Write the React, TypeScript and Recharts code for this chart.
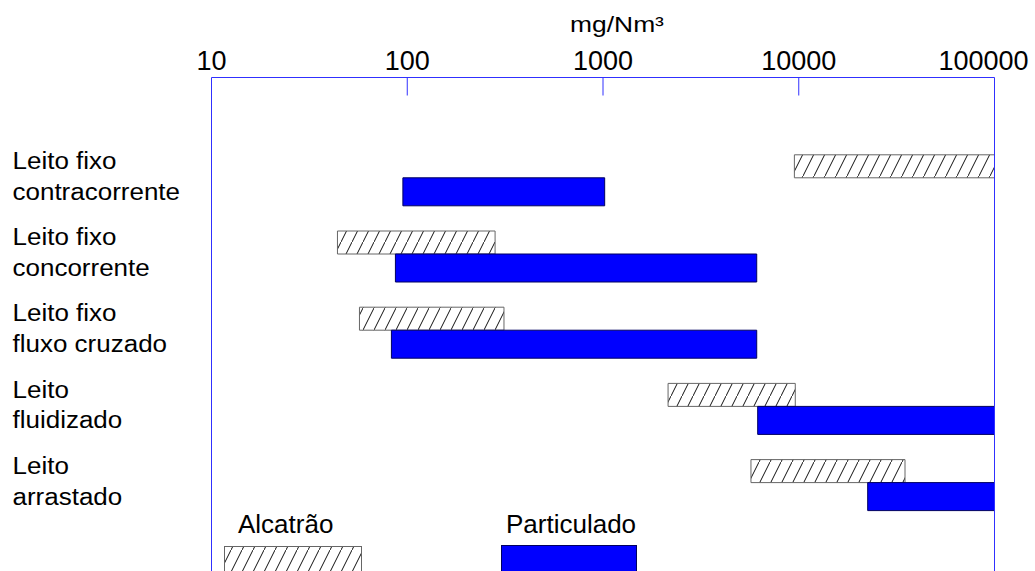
import React from 'react';
import { Bar, BarChart, Label, Legend, ReferenceLine, XAxis, YAxis } from 'recharts';

// categories on the left, one pair of range bars each
const categories = [
  'Leito fixo\ncontracorrente',
  'Leito fixo\nconcorrente',
  'Leito fixo\nfluxo cruzado',
  'Leito\nfluidizado',
  'Leito\narrastado',
];

// [min, max] in mg/Nm³
const alcatrao: [number, number][] = [
  [9500, 100000],
  [44, 281],
  [57, 312],
  [2150, 9600],
  [5700, 34900],
];
const particulado: [number, number][] = [
  [95, 1020],
  [87, 6100],
  [83, 6100],
  [6170, 100000],
  [22500, 100000],
];

const xTicks = [10, 100, 1000, 10000, 100000];
const seriesNames = ['Alcatrão', 'Particulado'];
const unit = 'mg/Nm³';

const FONT = '"Liberation Sans", Arial, sans-serif';
const BLUE = '#3030ff';

const data = categories.map((name, i) => ({
  name,
  alcatrao: alcatrao[i],
  particulado: particulado[i],
}));

const Hatch = ({ id }: { id: string }) => (
  <pattern id={id} patternUnits="userSpaceOnUse" width={11} height={22}>
    <rect width={11} height={22} fill="#fff" />
    <path d="M-1,24 L12,-2" stroke="#111" strokeWidth={1} />
  </pattern>
);

const XTick = (props: any) => {
  const { x, y, payload } = props;
  const v = payload.value;
  const first = v === xTicks[0];
  const last = v === xTicks[xTicks.length - 1];
  // the last label is pulled inside the page, as in the original
  return (
    <g>
      <text
        x={last ? x + 34 : x}
        y={y}
        textAnchor={last ? 'end' : 'middle'}
        fontFamily={FONT}
        fontSize={27}
        fill="#000"
      >
        {v}
      </text>
      {!first && !last && <line x1={x} x2={x} y1={y + 8} y2={y + 26} stroke={BLUE} />}
    </g>
  );
};

const YTick = (props: any) => {
  const { y, payload } = props;
  const lines = String(payload.value).split('\n');
  return (
    <g transform={`translate(12.5, ${y - 11}) scale(1.13 1)`}>
      <text fontFamily={FONT} fontSize={23} fill="#000">
        {lines.map((l, i) => (
          <tspan key={i} x={0} y={i * 31}>
            {l}
          </tspan>
        ))}
      </text>
    </g>
  );
};

const UnitLabel = (props: any) => {
  const { x, y, width } = props.viewBox;
  return (
    <text
      transform={`translate(${x + width / 2 + 14}, ${y + 31.5}) scale(1.2 1)`}
      textAnchor="middle"
      fontFamily={FONT}
      fontSize={22}
      fill="#000"
    >
      {unit}
    </text>
  );
};

const LegendContent = () => (
  <svg width={1035} height={571} style={{ position: 'absolute', left: 0, top: 0 }}>
    <defs>
      <Hatch id="hatch-legend" />
    </defs>
    <text x={238} y={533} fontFamily={FONT} fontSize={26} fill="#000">
      {seriesNames[0]}
    </text>
    <rect x={224.5} y={546.5} width={137} height={40} fill="url(#hatch-legend)" stroke="#666" />
    <text x={506} y={533} fontFamily={FONT} fontSize={26} fill="#000">
      {seriesNames[1]}
    </text>
    <rect x={501.5} y={545.5} width={135} height={40} fill="#0000ff" stroke="#000060" />
  </svg>
);

export default function App() {
  return (
    <div
      style={{
        position: 'absolute',
        left: 0,
        top: 0,
        width: 1035,
        height: 571,
        overflow: 'hidden',
        background: '#fff',
      }}
    >
      <BarChart
        width={1035}
        height={571}
        layout="vertical"
        data={data}
        barGap={0}
        margin={{ top: 0.5, right: 40.5, left: 0, bottom: 0 }}
      >
        <defs>
          <Hatch id="hatch" />
        </defs>
        <XAxis
          type="number"
          scale="log"
          domain={[10, 100000]}
          ticks={xTicks}
          allowDataOverflow
          orientation="top"
          height={77}
          interval={0}
          tickLine={false}
          tickSize={0}
          tickMargin={8}
          axisLine={{ stroke: BLUE }}
          tick={<XTick />}
        >
          <Label content={<UnitLabel />} />
        </XAxis>
        <YAxis
          type="category"
          dataKey="name"
          width={211.5}
          interval={0}
          axisLine={{ stroke: BLUE }}
          tickLine={false}
          tick={<YTick />}
          padding={{ top: 64.3, bottom: 48.2 }}
        />
        <ReferenceLine x={100000} stroke={BLUE} />
        <Legend
          layout="horizontal"
          verticalAlign="middle"
          align="center"
          content={<LegendContent />}
          wrapperStyle={{ left: 0, top: 0, width: 1035, height: 571, pointerEvents: 'none' }}
        />
        <Bar
          dataKey="alcatrao"
          name={seriesNames[0]}
          barSize={23}
          fill="url(#hatch)"
          stroke="#666"
          isAnimationActive={false}
        />
        <Bar
          dataKey="particulado"
          name={seriesNames[1]}
          barSize={28}
          fill="#0000ff"
          stroke="#000060"
          isAnimationActive={false}
        />
      </BarChart>
    </div>
  );
}
